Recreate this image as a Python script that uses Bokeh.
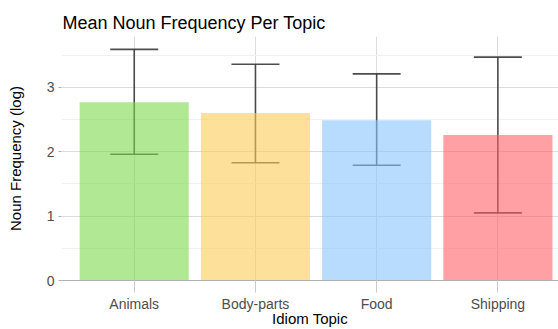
from bokeh.plotting import figure
from bokeh.models import ColumnDataSource, Range1d, FixedTicker, Whisker, TeeHead
from bokeh.embed import file_html
from bokeh.resources import INLINE

categories = ["Animals", "Body-parts", "Food", "Shipping"]
means = [2.77, 2.60, 2.49, 2.26]
lower = [1.96, 1.83, 1.79, 1.05]
upper = [3.59, 3.36, 3.21, 3.47]
colors = ["#7BD94D", "#FBCD57", "#89C5FB", "#FF6368"]
y_ticks = [0, 1, 2, 3]
y_minor = [0.5, 1.5, 2.5, 3.5]

xs = list(range(1, len(categories) + 1))
src = ColumnDataSource(dict(x=xs, top=means, lower=lower, upper=upper, color=colors))

FONT = "Liberation Sans"

p = figure(width=558, height=329, output_backend="svg", toolbar_location=None,
           x_range=Range1d(0.4, 4.5), y_range=Range1d(0, 3.79),
           min_border_left=61, min_border_right=0, min_border_bottom=49, min_border_top=36,
           title="Mean Noun Frequency Per Topic")
p.outline_line_color = None
p.background_fill_color = "white"
p.border_fill_color = "white"

p.title.text_font = FONT
p.title.text_font_size = "18px"
p.title.text_font_style = "normal"
p.title.text_color = "#000000"
p.title.offset = 1
p.title.standoff = 7

p.vbar(x="x", top="top", bottom=0, width=0.9, source=src, fill_color="color",
       fill_alpha=0.6, line_color=None)

ecol = "#3a3a3a"
w = Whisker(base="x", upper="upper", lower="lower", source=src,
            line_color=ecol, line_alpha=0.9, line_width=1.6,
            upper_head=TeeHead(size=48, line_color=ecol, line_alpha=0.9, line_width=1.6),
            lower_head=TeeHead(size=48, line_color=ecol, line_alpha=0.9, line_width=1.6))
p.add_layout(w)

# x axis
p.xaxis.ticker = FixedTicker(ticks=xs)
p.xaxis.major_label_overrides = {i: c for i, c in zip(xs, categories)}
p.xaxis.axis_label = "Idiom Topic"
p.xaxis.axis_line_color = "#b0b0b0"
p.xaxis.axis_line_width = 1
p.xaxis.major_tick_line_color = "#cccccc"
p.xaxis.major_tick_out = 12
p.xaxis.major_tick_in = 0
p.xaxis.minor_tick_line_color = None
p.xaxis.major_label_standoff = 3
p.xaxis.axis_label_standoff = -5

# y axis
p.yaxis.ticker = FixedTicker(ticks=y_ticks, minor_ticks=y_minor)
p.yaxis.axis_label = "Noun Frequency (log)"
p.yaxis.axis_line_color = None
p.yaxis.major_tick_line_color = "#b0b0b0"
p.yaxis.major_tick_out = 3
p.yaxis.major_tick_in = 0
p.yaxis.minor_tick_line_color = None
p.yaxis.major_label_standoff = 3
p.yaxis.axis_label_standoff = 20

for ax in (p.xaxis, p.yaxis):
    ax.major_label_text_font = FONT
    ax.major_label_text_font_size = "14px"
    ax.major_label_text_color = "#4d4d4d"
    ax.axis_label_text_font = FONT
    ax.axis_label_text_font_size = "15px"
    ax.axis_label_text_font_style = "normal"
    ax.axis_label_text_color = "#000000"

p.xgrid.ticker = FixedTicker(ticks=xs)
p.xgrid.grid_line_color = "#dcdcdc"
p.ygrid.ticker = FixedTicker(ticks=y_ticks, minor_ticks=y_minor)
p.ygrid.grid_line_color = "#dcdcdc"
p.ygrid.minor_grid_line_color = "#f0f0f0"

open("out.html", "w").write(file_html(p, INLINE))
